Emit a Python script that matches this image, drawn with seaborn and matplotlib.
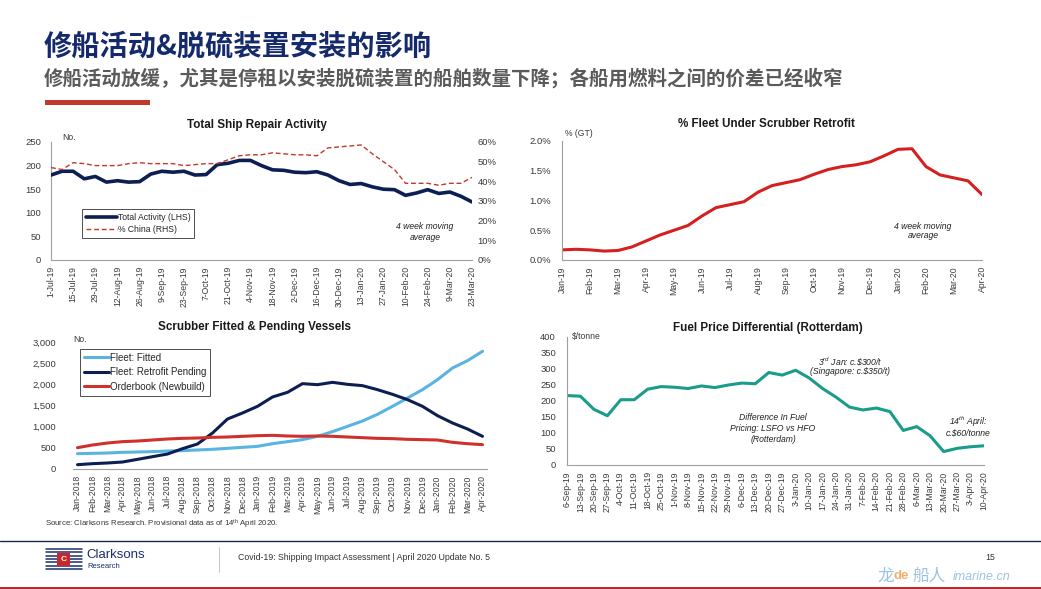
import matplotlib
matplotlib.use('Agg')
import matplotlib.pyplot as plt
import seaborn as sns
import numpy as np
from matplotlib.lines import Line2D
from matplotlib.patches import Rectangle
from matplotlib.ticker import FuncFormatter, MultipleLocator

##Data

#Total Ship Repair Activity (weekly, 1-Jul-19 .. 23-Mar-20)
repair_ticks = ['1-Jul-19', '15-Jul-19', '29-Jul-19', '12-Aug-19', '26-Aug-19', '9-Sep-19',
                '23-Sep-19', '7-Oct-19', '21-Oct-19', '4-Nov-19', '18-Nov-19', '2-Dec-19',
                '16-Dec-19', '30-Dec-19', '13-Jan-20', '27-Jan-20', '10-Feb-20', '24-Feb-20',
                '9-Mar-20', '23-Mar-20']
repair_total = [180, 188, 188, 172, 177, 165, 168, 165, 166, 182, 188, 186, 188, 180, 181,
                202, 205, 211, 211, 200, 191, 190, 186, 185, 187, 180, 168, 160, 162, 155,
                150, 149, 137, 142, 149, 141, 144, 135, 123]
repair_china = [47, 46, 49.5, 49, 48, 48, 48, 49, 49.5, 49, 49, 49, 48, 48.5, 49, 49, 51,
                53, 53.5, 53.5, 54.5, 54, 53.5, 53.5, 53, 57, 57.5, 58, 58.5, 54, 50, 46,
                39, 39, 39, 38, 39, 39, 42]

#% Fleet Under Scrubber Retrofit (half-monthly readings, Jan-19 .. Apr-20)
retrofit_months = ['Jan-19', 'Feb-19', 'Mar-19', 'Apr-19', 'May-19', 'Jun-19', 'Jul-19',
                   'Aug-19', 'Sep-19', 'Oct-19', 'Nov-19', 'Dec-19', 'Jan-20', 'Feb-20',
                   'Mar-20', 'Apr-20']
retrofit_pct = [0.17, 0.18, 0.17, 0.15, 0.16, 0.22, 0.32, 0.42, 0.50, 0.58, 0.74, 0.88,
                0.93, 0.98, 1.14, 1.25, 1.30, 1.35, 1.44, 1.52, 1.57, 1.60, 1.65, 1.75,
                1.86, 1.87, 1.57, 1.43, 1.38, 1.33, 1.10]

#Scrubber Fitted & Pending Vessels (monthly, Jan-2018 .. Apr-2020)
scrub_months = ['Jan-2018', 'Feb-2018', 'Mar-2018', 'Apr-2018', 'May-2018', 'Jun-2018',
                'Jul-2018', 'Aug-2018', 'Sep-2018', 'Oct-2018', 'Nov-2018', 'Dec-2018',
                'Jan-2019', 'Feb-2019', 'Mar-2019', 'Apr-2019', 'May-2019', 'Jun-2019',
                'Jul-2019', 'Aug-2019', 'Sep-2019', 'Oct-2019', 'Nov-2019', 'Dec-2019',
                'Jan-2020', 'Feb-2020', 'Mar-2020', 'Apr-2020']
fleet_fitted = [362, 370, 378, 394, 402, 410, 425, 433, 449, 465, 488, 512, 535, 598, 646,
                693, 772, 882, 1008, 1134, 1291, 1480, 1677, 1874, 2110, 2386, 2559, 2780]
fleet_pending = [102, 126, 142, 165, 228, 291, 354, 480, 591, 850, 1181, 1323, 1480, 1701,
                 1811, 2016, 1992, 2047, 2000, 1969, 1874, 1764, 1638, 1480, 1260, 1087,
                 945, 772]
orderbook = [504, 567, 614, 646, 661, 685, 709, 724, 732, 748, 756, 772, 787, 795, 780, 772,
             780, 772, 756, 740, 724, 717, 701, 693, 685, 630, 598, 575]

#Fuel Price Differential (weekly, 6-Sep-19 .. 10-Apr-20)
fuel_weeks = ['6-Sep-19', '13-Sep-19', '20-Sep-19', '27-Sep-19', '4-Oct-19', '11-Oct-19',
              '18-Oct-19', '25-Oct-19', '1-Nov-19', '8-Nov-19', '15-Nov-19', '22-Nov-19',
              '29-Nov-19', '6-Dec-19', '13-Dec-19', '20-Dec-19', '27-Dec-19', '3-Jan-20',
              '10-Jan-20', '17-Jan-20', '24-Jan-20', '31-Jan-20', '7-Feb-20', '14-Feb-20',
              '21-Feb-20', '28-Feb-20', '6-Mar-20', '13-Mar-20', '20-Mar-20', '27-Mar-20',
              '3-Apr-20', '10-Apr-20']
fuel_diff = [217, 215, 174, 154, 204, 204, 237, 245, 243, 239, 247, 242, 250, 256, 254,
             289, 281, 296, 272, 239, 212, 181, 172, 178, 167, 108, 120, 91, 42, 52, 57, 60]

##Style
sns.set_style('white')
plt.rcParams['font.family'] = ['Liberation Sans', 'Noto Sans CJK SC', 'DejaVu Sans']
plt.rcParams['mathtext.fontset'] = 'custom'
plt.rcParams['mathtext.rm'] = 'Liberation Sans'
plt.rcParams['mathtext.it'] = 'Liberation Sans:italic'

W, H = 1041, 589
fig = plt.figure(figsize=(W / 100, H / 100), dpi=100)

def fx(px):
    return px / W

def fy(py):
    return 1 - py / H

def axbox(x0, y0, x1, y1):
    return fig.add_axes([fx(x0), fy(y1), (x1 - x0) / W, (y1 - y0) / H])

navy = '#0d1f52'
red = '#d0312d'
teal = '#1a9c8a'
light_blue = '#5ab4e0'
tick_col = '#3a3a3a'
spine_col = '#a0a0a0'
FS = 6.2

def style_axis(ax, ypad):
    sns.despine(ax=ax, top=True, right=True)
    for s in ['left', 'bottom']:
        ax.spines[s].set_color(spine_col)
        ax.spines[s].set_linewidth(0.8)
    ax.tick_params(axis='y', length=0, pad=ypad, labelsize=FS + 0.6, labelcolor=tick_col)
    ax.tick_params(axis='x', length=2.5, width=0.6, color=spine_col, pad=2,
                   labelsize=FS, labelcolor=tick_col, labelrotation=90)
    ax.set_xlabel('')
    ax.set_ylabel('')

##Chart 1 - Total Ship Repair Activity
ax1 = axbox(51, 142, 472, 260)
ax1b = ax1.twinx()
x1 = np.arange(len(repair_total))
sns.lineplot(x=x1, y=repair_total, ax=ax1, color=navy, linewidth=2.6,
             label='Total Activity (LHS)', legend=False, zorder=3)
sns.lineplot(x=x1, y=repair_china, ax=ax1b, color='#c0392b', linewidth=1.0,
             linestyle=(0, (3.5, 2)), label='% China (RHS)', legend=False)
ax1.set_xlim(0, len(repair_total) - 1)
ax1.set_ylim(0, 250)
ax1.yaxis.set_major_locator(MultipleLocator(50))
ax1b.set_ylim(0, 60)
ax1b.yaxis.set_major_locator(MultipleLocator(10))
ax1b.yaxis.set_major_formatter(FuncFormatter(lambda v, p: '{:.0f}%'.format(v)))
ax1.set_xticks(x1[::2])
ax1.set_xticklabels(repair_ticks)
style_axis(ax1, 7)
ax1b.tick_params(axis='y', length=0, pad=4, labelsize=FS + 0.6, labelcolor=tick_col)
for s in ['top', 'right', 'left', 'bottom']:
    ax1b.spines[s].set_visible(False)
ax1b.set_ylabel('')
h1, l1 = ax1.get_legend_handles_labels()
h2, l2 = ax1b.get_legend_handles_labels()
leg = ax1b.legend(h1 + h2, l1 + l2, loc='upper left', bbox_to_anchor=(fx(82), fy(209)),
                  bbox_transform=fig.transFigure, fontsize=FS, frameon=True, fancybox=False,
                  handlelength=3.6, handletextpad=0.1, borderpad=0.45, labelspacing=0.35,
                  borderaxespad=0)
leg.get_frame().set_edgecolor('#222222')
leg.get_frame().set_linewidth(0.7)
fig.text(fx(257), fy(125), 'Total Ship Repair Activity', ha='center', va='center',
         fontsize=8.4, fontweight='bold', color='#1a1a1a')
fig.text(fx(62), fy(138), 'No.', ha='left', va='center', fontsize=FS, color=tick_col)
fig.text(fx(425), fy(226), '4 week moving', ha='center', va='center', fontsize=FS,
         style='italic', color='#222222')
fig.text(fx(425), fy(237), 'average', ha='center', va='center', fontsize=FS,
         style='italic', color='#222222')

##Chart 2 - % Fleet Under Scrubber Retrofit
ax2 = axbox(562, 141, 982, 260)
x2 = np.arange(len(retrofit_pct)) / 2
sns.lineplot(x=x2, y=retrofit_pct, ax=ax2, color='#d61f1f', linewidth=2.2, legend=False)
ax2.set_xlim(0, len(retrofit_months) - 1)
ax2.set_ylim(0, 2.0)
ax2.yaxis.set_major_locator(MultipleLocator(0.5))
ax2.yaxis.set_major_formatter(FuncFormatter(lambda v, p: '{:.1f}%'.format(v)))
ax2.set_xticks(np.arange(len(retrofit_months)))
ax2.set_xticklabels(retrofit_months)
style_axis(ax2, 8)
fig.text(fx(766), fy(124), '% Fleet Under Scrubber Retrofit', ha='center', va='center',
         fontsize=8.4, fontweight='bold', color='#1a1a1a')
fig.text(fx(565), fy(133), '% (GT)', ha='left', va='center', fontsize=FS, color=tick_col)
fig.text(fx(923), fy(226), '4 week moving', ha='center', va='center', fontsize=FS,
         style='italic', color='#222222')
fig.text(fx(923), fy(236), 'average', ha='center', va='center', fontsize=FS,
         style='italic', color='#222222')

##Chart 3 - Scrubber Fitted & Pending Vessels
ax3 = axbox(73, 342, 487, 469)
x3 = np.arange(len(scrub_months))
sns.lineplot(x=x3, y=fleet_fitted, ax=ax3, color=light_blue, linewidth=2.2,
             label='Fleet: Fitted', legend=False)
sns.lineplot(x=x3, y=fleet_pending, ax=ax3, color=navy, linewidth=2.2,
             label='Fleet: Retrofit Pending', legend=False)
sns.lineplot(x=x3, y=orderbook, ax=ax3, color=red, linewidth=2.2,
             label='Orderbook (Newbuild)', legend=False)
ax3.set_xlim(-0.3, len(scrub_months) - 0.7)
ax3.set_ylim(0, 3000)
ax3.yaxis.set_major_locator(MultipleLocator(500))
ax3.yaxis.set_major_formatter(FuncFormatter(lambda v, p: '{:,.0f}'.format(v)))
ax3.set_xticks(x3)
ax3.set_xticklabels(scrub_months)
style_axis(ax3, 12)
ax3.spines['left'].set_visible(False)
leg3 = ax3.legend(loc='upper left', bbox_to_anchor=(fx(80), fy(349)),
                  bbox_transform=fig.transFigure, fontsize=FS + 0.8, frameon=True,
                  fancybox=False, handlelength=2.6, handletextpad=0.05, borderpad=0.4,
                  labelspacing=0.45, borderaxespad=0)
leg3.get_frame().set_edgecolor('#222222')
leg3.get_frame().set_linewidth(0.7)
fig.text(fx(255), fy(327), 'Scrubber Fitted & Pending Vessels', ha='center', va='center',
         fontsize=8.4, fontweight='bold', color='#1a1a1a')
fig.text(fx(73), fy(339), 'No.', ha='left', va='center', fontsize=FS, color=tick_col)

##Chart 4 - Fuel Price Differential (Rotterdam)
ax4 = axbox(567, 337, 984, 465)
x4 = np.arange(len(fuel_diff))
sns.lineplot(x=x4, y=fuel_diff, ax=ax4, color=teal, linewidth=2.2, legend=False)
ax4.set_xlim(0, len(fuel_diff) - 1)
ax4.set_ylim(0, 400)
ax4.yaxis.set_major_locator(MultipleLocator(50))
ax4.set_xticks(x4)
ax4.set_xticklabels(fuel_weeks)
style_axis(ax4, 8)
fig.text(fx(768), fy(328), 'Fuel Price Differential (Rotterdam)', ha='center', va='center',
         fontsize=8.4, fontweight='bold', color='#1a1a1a')
fig.text(fx(572), fy(336), '$/tonne', ha='left', va='center', fontsize=FS, color=tick_col)
fig.text(fx(850), fy(362), r'3$^{\mathit{rd}}$ Jan: c.\$300/t', ha='center', va='center',
         fontsize=FS, style='italic', color='#222222')
fig.text(fx(850), fy(372), '(Singapore: c.$350/t)', ha='center', va='center',
         fontsize=FS, style='italic', color='#222222')
for i, line in enumerate(['Difference In Fuel', 'Pricing: LSFO vs HFO', '(Rotterdam)']):
    fig.text(fx(773), fy(418 + 10.5 * i), line, ha='center', va='center', fontsize=FS,
             style='italic', color='#222222')
fig.text(fx(968), fy(422), r'14$^{\mathit{th}}$ April:', ha='center', va='center',
         fontsize=FS, style='italic', color='#222222')
fig.text(fx(968), fy(433), 'c.$60/tonne', ha='center', va='center', fontsize=FS,
         style='italic', color='#222222')

##Header
fig.text(fx(44), fy(47), '修船活动&脱硫装置安装的影响', ha='left', va='center',
         fontsize=20.3, fontweight='bold', color='#152a6c',
         family=['Noto Sans CJK SC', 'DejaVu Sans'])
fig.text(fx(44), fy(78), '修船活动放缓，尤其是停租以安装脱硫装置的船舶数量下降；各船用燃料之间的价差已经收窄',
         ha='left', va='center', fontsize=14, fontweight='bold', color='#5a5a5a',
         family=['Noto Sans CJK SC', 'DejaVu Sans'])
fig.add_artist(Rectangle((fx(45), fy(105)), 105 / W, 5 / H, transform=fig.transFigure,
                         color='#c0392b', lw=0))

##Footer
fig.text(fx(45), fy(524), r'Source: Clarksons Research. Provisional data as of 14$^{\mathrm{th}}$ April 2020.',
         ha='left', va='center', fontsize=5.6, color='#333333')
fig.add_artist(Line2D([0, 1], [fy(541), fy(541)], transform=fig.transFigure,
                      color='#1c2a4a', lw=1.0))
fig.add_artist(Line2D([fx(219), fx(219)], [fy(547), fy(572)], transform=fig.transFigure,
                      color='#bbbbbb', lw=0.6))
# logo waves
for k in range(7):
    yy = fy(549 + 3.3 * k)
    fig.add_artist(Line2D([fx(46), fx(82)], [yy, yy], transform=fig.transFigure,
                          color='#1c2f6e', lw=1.1))
fig.add_artist(Rectangle((fx(57), fy(566)), 13 / W, 13 / H, transform=fig.transFigure,
                         color='#c8282d', lw=0, zorder=5))
fig.text(fx(63.5), fy(559.5), 'C', ha='center', va='center', fontsize=6, color='white',
         fontweight='bold', zorder=6)
fig.text(fx(86), fy(555), 'Clarksons', ha='left', va='center', fontsize=9.5, color='#1c2f6e')
fig.text(fx(87), fy(566), 'Research', ha='left', va='center', fontsize=5.5, color='#1c2f6e')
fig.text(fx(238), fy(558), 'Covid-19: Shipping Impact Assessment | April 2020 Update No. 5',
         ha='left', va='center', fontsize=6.3, color='#333333')
fig.text(fx(990), fy(558), '15', ha='center', va='center', fontsize=6.3, color='#333333')
fig.text(fx(877), fy(576), '龙', ha='left', va='center', fontsize=12, color='#9cc3e0',
         family=['Noto Sans CJK SC'])
fig.text(fx(894), fy(576), 'de', ha='left', va='center', fontsize=9.5, color='#f0b070',
         fontweight='bold')
fig.text(fx(912), fy(576), '船人', ha='left', va='center', fontsize=12, color='#9cc3e0',
         family=['Noto Sans CJK SC'])
fig.text(fx(953), fy(577), 'imarine.cn', ha='left', va='center', fontsize=9, color='#9cc3e0',
         style='italic')
fig.add_artist(Rectangle((0, 0), 1, 2.5 / H, transform=fig.transFigure, color='#b03030', lw=0))

plt.savefig('out.png', dpi=100)
